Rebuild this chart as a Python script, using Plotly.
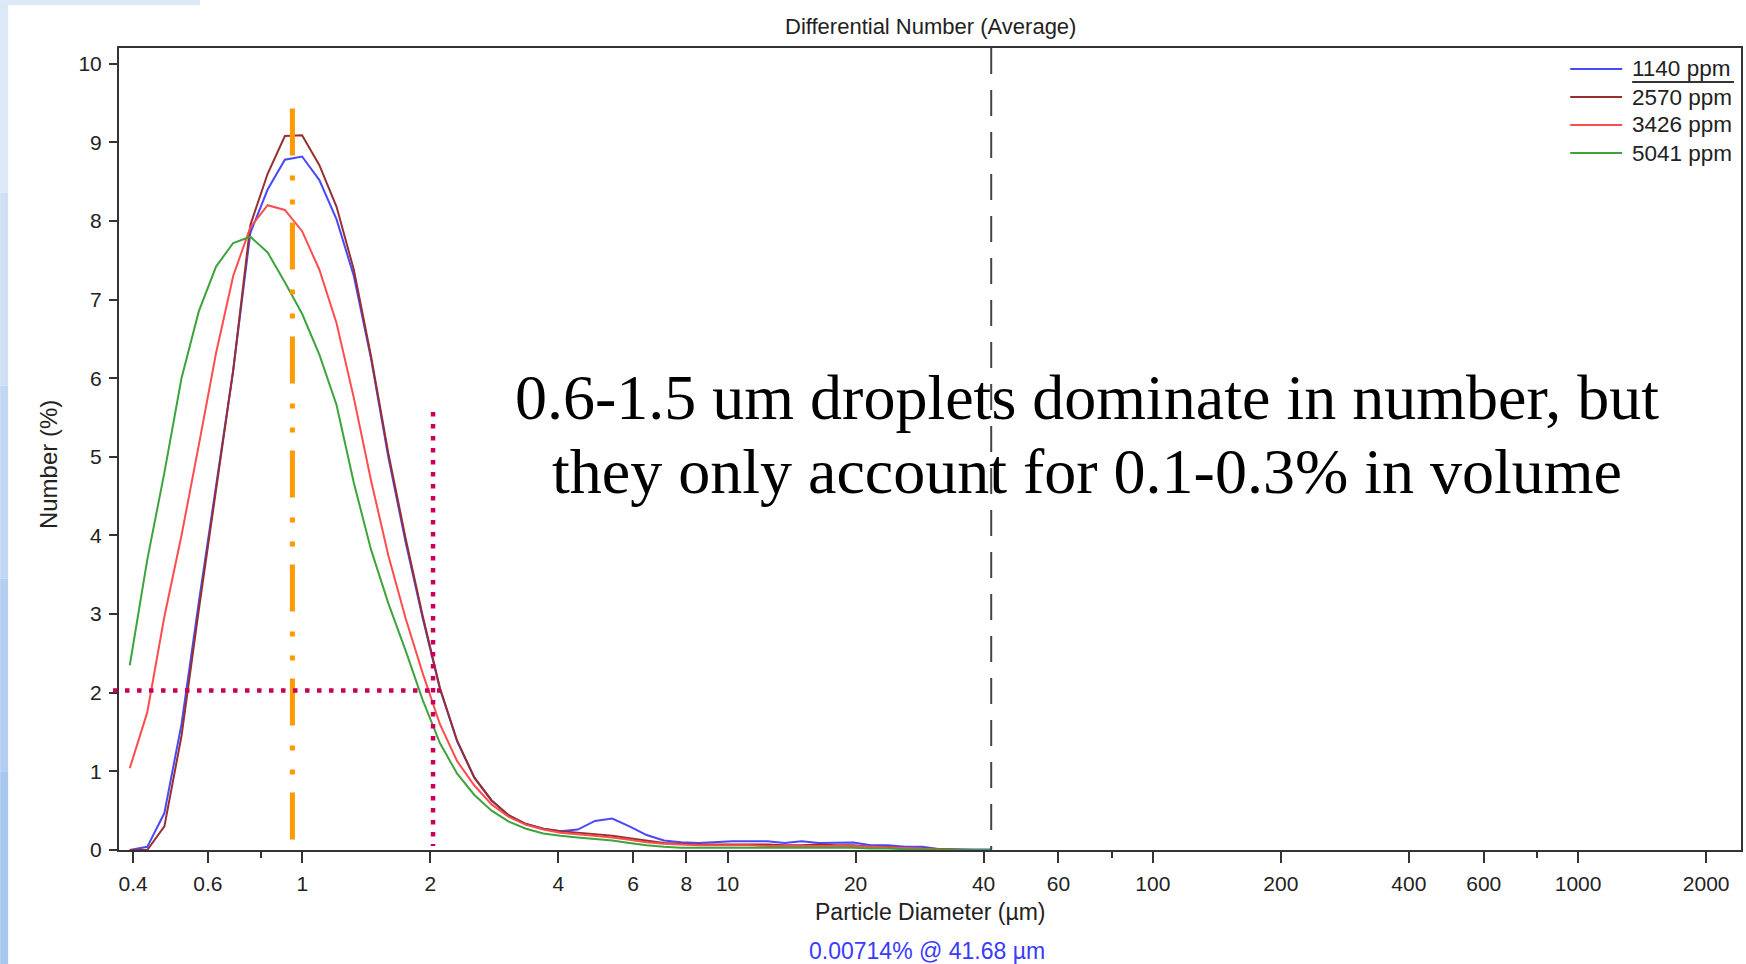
import plotly.graph_objects as go

# ---------------- data ----------------
diameter_um = [0.393, 0.432, 0.474, 0.520, 0.571, 0.627, 0.688, 0.755, 0.829, 0.910,
               0.999, 1.097, 1.204, 1.322, 1.451, 1.593, 1.749, 1.919, 2.107, 2.313,
               2.539, 2.787, 3.060, 3.359, 3.687, 4.047, 4.444, 4.878, 5.355, 5.879,
               6.453, 7.084, 7.777, 8.537, 9.371, 10.29, 11.29, 12.40, 13.61, 14.94,
               16.40, 18.00, 19.76, 21.70, 23.81, 26.14, 28.70, 31.51, 34.59, 37.97, 41.68]

num_1140 = [0.00, 0.04, 0.47, 1.60, 3.15, 4.60, 6.10, 7.85, 8.40, 8.78,
            8.82, 8.52, 8.02, 7.30, 6.25, 5.00, 3.92, 2.95, 2.05, 1.38,
            0.92, 0.63, 0.44, 0.33, 0.27, 0.24, 0.26, 0.37, 0.40, 0.30,
            0.19, 0.12, 0.10, 0.09, 0.10, 0.11, 0.11, 0.11, 0.09, 0.11,
            0.09, 0.09, 0.095, 0.06, 0.06, 0.04, 0.04, 0.01, 0.01, 0.01, 0.007]

num_2570 = [0.00, 0.00, 0.30, 1.45, 3.05, 4.55, 6.10, 7.95, 8.60, 9.08,
            9.09, 8.71, 8.18, 7.38, 6.28, 5.05, 3.97, 2.98, 2.06, 1.39,
            0.92, 0.63, 0.44, 0.33, 0.27, 0.24, 0.22, 0.20, 0.18, 0.15,
            0.12, 0.09, 0.08, 0.07, 0.07, 0.07, 0.07, 0.07, 0.06, 0.06,
            0.07, 0.06, 0.06, 0.04, 0.04, 0.02, 0.02, 0.01, 0.005, 0.0, 0.0]

num_3426 = [1.04, 1.75, 2.97, 4.00, 5.15, 6.32, 7.30, 7.92, 8.20, 8.14,
            7.87, 7.38, 6.70, 5.75, 4.70, 3.75, 2.95, 2.25, 1.60, 1.13,
            0.82, 0.58, 0.42, 0.32, 0.26, 0.22, 0.20, 0.18, 0.16, 0.13,
            0.10, 0.08, 0.07, 0.06, 0.06, 0.06, 0.06, 0.05, 0.05, 0.05,
            0.05, 0.05, 0.05, 0.04, 0.03, 0.02, 0.01, 0.005, 0.0, 0.0, 0.0]

num_5041 = [2.35, 3.69, 4.80, 6.00, 6.85, 7.42, 7.72, 7.80, 7.60, 7.22,
            6.82, 6.30, 5.66, 4.67, 3.82, 3.14, 2.54, 1.91, 1.36, 0.97,
            0.70, 0.50, 0.36, 0.27, 0.21, 0.18, 0.16, 0.14, 0.12, 0.09,
            0.06, 0.04, 0.03, 0.03, 0.03, 0.03, 0.03, 0.03, 0.03, 0.03,
            0.03, 0.03, 0.03, 0.02, 0.02, 0.01, 0.005, 0.0, 0.0, 0.0, 0.0]

series_names = ["1140 ppm", "2570 ppm", "3426 ppm", "5041 ppm"]
series_values = [num_1140, num_2570, num_3426, num_5041]
series_colors = ["#4848ff", "#972f2f", "#ff4c4c", "#3da43d"]

x_tick_vals = [0.4, 0.6, 1, 2, 4, 6, 8, 10, 20, 40, 60, 100, 200, 400, 600, 1000, 2000]
x_tick_text = ["0.4", "0.6", "1", "2", "4", "6", "8", "10", "20", "40", "60",
               "100", "200", "400", "600", "1000", "2000"]
x_minor_vals = [0.8, 80, 800]
y_tick_vals = [0, 1, 2, 3, 4, 5, 6, 7, 8, 9, 10]

cursor_um = 41.68
cursor_text = "0.00714% @ 41.68 µm"
peak_marker_um = 0.948
crossing_um = 2.03
crossing_level = 2.03

# ---------------- figure ----------------
W, H = 1746, 964
L, R, T, B = 119, 3, 48, 114
PW, PH = W - L - R, H - T - B


def px(xp):
    return (xp - L) / PW


def py(yp):
    return (H - B - yp) / PH


SANS = "Arial, Liberation Sans, sans-serif"
SERIF = "Times New Roman, Liberation Serif, serif"
AX = "#333333"

fig = go.Figure()
for name, vals, col in zip(series_names, series_values, series_colors):
    fig.add_trace(go.Scatter(x=diameter_um, y=vals, mode="lines", name=name,
                             line=dict(color=col, width=2), showlegend=False))

shapes = []
# slide background strips (left/top)
strip_cols = ["#dbe8f6", "#cfe0f4", "#c2d8f2", "#b4cff0", "#a8c7ee"]
n = len(strip_cols)
for i, c in enumerate(strip_cols):
    y_top = H * i / n
    y_bot = H * (i + 1) / n
    shapes.append(dict(type="rect", xref="paper", yref="paper",
                       x0=px(0), x1=px(8), y0=py(y_bot), y1=py(y_top),
                       fillcolor=c, line=dict(width=0), layer="below"))
shapes.append(dict(type="rect", xref="paper", yref="paper",
                   x0=px(0), x1=px(200), y0=py(5), y1=py(0),
                   fillcolor="#dde9f6", line=dict(width=0), layer="below"))

# black dashed cursor
shapes.append(dict(type="line", xref="x", yref="y", x0=cursor_um, x1=cursor_um,
                   y0=10.2, y1=0, line=dict(color="#444444", width=2, dash="26px,16px")))
# orange dash-dot-dot marker
shapes.append(dict(type="line", xref="x", yref="y", x0=peak_marker_um, x1=peak_marker_um,
                   y0=9.43, y1=0.12,
                   line=dict(color="#ff9900", width=5, dash="47px,20px,5px,19px,5px,18px")))
# magenta dotted guides
shapes.append(dict(type="line", xref="x", yref="y", x0=crossing_um, x1=crossing_um,
                   y0=5.57, y1=0.05,
                   line=dict(color="#c8005a", width=4.5, dash="4.5px,7.5px")))
shapes.append(dict(type="line", xref="paper", yref="y", x0=px(113), x1=px(441),
                   y0=crossing_level, y1=crossing_level,
                   line=dict(color="#c8005a", width=4.5, dash="4.5px,7.5px")))

# manual legend
leg_y = [69, 97, 125, 153]
for name, col, yy in zip(series_names, series_colors, leg_y):
    shapes.append(dict(type="line", xref="paper", yref="paper",
                       x0=px(1572), x1=px(1624), y0=py(yy), y1=py(yy),
                       line=dict(color=col, width=2)))
shapes.append(dict(type="line", xref="paper", yref="paper",
                   x0=px(1634), x1=px(1736), y0=py(82), y1=py(82),
                   line=dict(color="#333333", width=2)))

annotations = []
for name, yy in zip(series_names, leg_y):
    annotations.append(dict(text=name, xref="paper", yref="paper", x=px(1632), y=py(yy),
                            xanchor="left", yanchor="middle", showarrow=False,
                            font=dict(family=SANS, size=22.5, color="#222222")))

annotations += [
    dict(text="Differential Number (Average)", xref="paper", yref="paper",
         x=px(931), y=py(26), xanchor="center", yanchor="middle", showarrow=False,
         font=dict(family=SANS, size=22, color="#222222")),
    dict(text="Particle Diameter (µm)", xref="paper", yref="paper",
         x=px(931), y=py(912), xanchor="center", yanchor="middle", showarrow=False,
         font=dict(family=SANS, size=23, color="#222222")),
    dict(text="Number (%)", xref="paper", yref="paper", textangle=-90,
         x=px(48), y=py(465), xanchor="center", yanchor="middle", showarrow=False,
         font=dict(family=SANS, size=24, color="#222222")),
    dict(text=cursor_text, xref="paper", yref="paper",
         x=px(928), y=py(951), xanchor="center", yanchor="middle", showarrow=False,
         font=dict(family=SANS, size=23, color="#3a3aff")),
    dict(text="0.6-1.5 um droplets dominate in number, but", xref="paper", yref="paper",
         x=px(1088), y=py(397), xanchor="center", yanchor="middle", showarrow=False,
         font=dict(family=SERIF, size=64, color="#000000")),
    dict(text="they only account for 0.1-0.3% in volume", xref="paper", yref="paper",
         x=px(1088), y=py(472), xanchor="center", yanchor="middle", showarrow=False,
         font=dict(family=SERIF, size=64, color="#000000")),
]

fig.update_layout(
    width=W, height=H, autosize=False,
    margin=dict(l=L, r=R, t=T, b=B, pad=0),
    paper_bgcolor="#ffffff", plot_bgcolor="#ffffff",
    showlegend=False,
    shapes=shapes, annotations=annotations,
    xaxis=dict(type="log", range=[-0.43095, 3.3830],
               tickmode="array", tickvals=x_tick_vals, ticktext=x_tick_text,
               ticks="outside", ticklen=11, tickwidth=2, tickcolor=AX,
               showline=True, linecolor=AX, linewidth=2, mirror=True,
               showgrid=False, zeroline=False, ticklabelstandoff=3,
               tickfont=dict(family=SANS, size=21, color="#222222"),
               minor=dict(tickvals=x_minor_vals, ticks="outside", ticklen=6,
                          tickwidth=2, tickcolor=AX, showgrid=False)),
    yaxis=dict(range=[0, 10.2], tickmode="array", tickvals=y_tick_vals,
               ticks="outside", ticklen=8, tickwidth=2, tickcolor=AX,
               showline=True, linecolor=AX, linewidth=2, mirror=True,
               showgrid=False, zeroline=False, ticklabelstandoff=3,
               tickfont=dict(family=SANS, size=21, color="#222222")),
)

fig.write_html("out.html")
